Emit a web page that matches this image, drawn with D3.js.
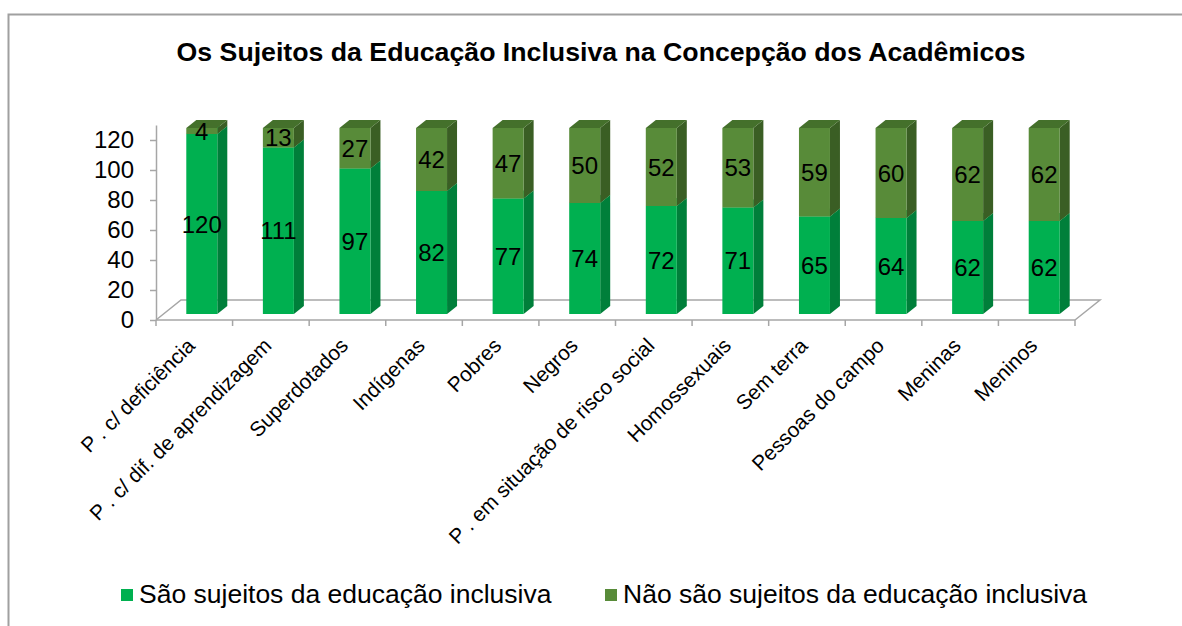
<!DOCTYPE html>
<html>
<head>
<meta charset="utf-8">
<script src="https://cdn.jsdelivr.net/npm/d3@7"></script>
<style>
  body { margin: 0; background: #fff; }
  svg { display: block; font-family: 'Liberation Sans', Arial, sans-serif; }
</style>
</head>
<body>
<svg id="chart" width="1182" height="626"></svg>
<script>
const categories = [
  'P . c/ deficiência', 'P . c/ dif. de aprendizagem', 'Superdotados', 'Indígenas',
  'Pobres', 'Negros', 'P . em situação de risco social', 'Homossexuais',
  'Sem terra', 'Pessoas do campo', 'Meninas', 'Meninos'
];
const saoSujeitos = [120, 111, 97, 82, 77, 74, 72, 71, 65, 64, 62, 62];
const naoSaoSujeitos = [4, 13, 27, 42, 47, 50, 52, 53, 59, 60, 62, 62];
const yTicks = [0, 20, 40, 60, 80, 100, 120];
const seriesNames = ['São sujeitos da educação inclusiva', 'Não são sujeitos da educação inclusiva'];

const colors = [
  { front: '#00B050', side: '#007F3A', top: '#2EC06A' },
  { front: '#588B39', side: '#3A5E24', top: '#44702B' }
];

const svg = d3.select('#chart');
const plot = { left: 156, right: 1075, bottom: 320, top: 125 };
// oblique depth of the floor, and the slice of it the bars stand in
const depth = { dx: 25, dy: -20 };
const barDepth = [0.3, 0.7];
const barWidth = 31;

const x = d3.scaleBand().domain(categories).range([plot.left, plot.right]);
const y = d3.scaleLinear().domain([0, 130]).range([plot.bottom, plot.top]);

// outer frame
svg.append('rect')
  .attr('x', 8.5).attr('y', 14.5)
  .attr('width', 1300).attr('height', 800)
  .attr('fill', 'none')
  .attr('stroke', '#A0A0A0')
  .attr('stroke-width', 2);

svg.append('text')
  .attr('x', 601).attr('y', 61)
  .attr('text-anchor', 'middle')
  .attr('font-size', 26.7)
  .attr('font-weight', 'bold')
  .text('Os Sujeitos da Educação Inclusiva na Concepção dos Acadêmicos');

// floor
const gridColor = '#A6A6A6';
const floor = svg.append('g').attr('stroke', gridColor).attr('stroke-width', 1.5).attr('fill', 'none');
floor.append('path')
  .attr('d', `M${plot.left},${plot.bottom} L${plot.left + depth.dx},${plot.bottom + depth.dy}
              L${plot.right + depth.dx},${plot.bottom + depth.dy} L${plot.right},${plot.bottom}`);

// y axis
const yAxis = svg.append('g')
  .attr('transform', `translate(${plot.left},0)`)
  .call(d3.axisLeft(y).tickValues(yTicks).tickSize(6).tickSizeOuter(0).tickPadding(16));
yAxis.select('.domain').attr('stroke', gridColor).attr('stroke-width', 1.5);
yAxis.selectAll('.tick line').attr('stroke', gridColor).attr('stroke-width', 1.5);
yAxis.selectAll('.tick text')
  .attr('font-size', 24)
  .attr('font-family', "'Liberation Sans', Arial, sans-serif")
  .attr('fill', '#000');

// x axis line and ticks at band boundaries
const xAxis = svg.append('g').attr('stroke', gridColor).attr('stroke-width', 1.5);
xAxis.append('line')
  .attr('x1', plot.left).attr('x2', plot.right)
  .attr('y1', plot.bottom).attr('y2', plot.bottom);
const bounds = categories.map(c => x(c)).concat([plot.right]);
xAxis.selectAll('.xt').data(bounds).enter().append('line')
  .attr('x1', d => d).attr('x2', d => d)
  .attr('y1', plot.bottom).attr('y2', plot.bottom + 6);

// category labels
svg.append('g').selectAll('text')
  .data(categories)
  .enter().append('text')
  .attr('transform', d => `translate(${x(d) + x.bandwidth() / 2 + 2},${plot.bottom + 27}) rotate(-45)`)
  .attr('text-anchor', 'end')
  .attr('font-size', 20.8)
  .text(d => d);

// stacked 3d columns
const stacks = categories.map((c, i) => {
  const vals = [saoSujeitos[i], naoSaoSujeitos[i]];
  let base = 0;
  return vals.map((v, s) => {
    const seg = { cat: c, series: s, value: v, y0: base, y1: base + v };
    base += v;
    return seg;
  });
});

const ox = depth.dx * barDepth[0];
const oy = depth.dy * barDepth[0];
const bx = depth.dx * (barDepth[1] - barDepth[0]);
const by = depth.dy * (barDepth[1] - barDepth[0]);

const bars = svg.append('g');
stacks.forEach(stack => {
  stack.forEach(seg => {
    const x0 = x(seg.cat) + (x.bandwidth() - barWidth) / 2 + ox;
    const x1 = x0 + barWidth;
    const yb = y(seg.y0) + oy;
    const yt = y(seg.y1) + oy;
    const col = colors[seg.series];
    const g = bars.append('g');
    g.append('polygon')
      .attr('points', [[x1, yb], [x1 + bx, yb + by], [x1 + bx, yt + by], [x1, yt]].join(' '))
      .attr('fill', col.side);
    g.append('polygon')
      .attr('points', [[x0, yt], [x1, yt], [x1 + bx, yt + by], [x0 + bx, yt + by]].join(' '))
      .attr('fill', col.top);
    g.append('rect')
      .attr('x', x0).attr('y', yt)
      .attr('width', barWidth).attr('height', yb - yt)
      .attr('fill', col.front);
  });
});

// data labels
stacks.forEach(stack => {
  stack.forEach(seg => {
    const cx = x(seg.cat) + x.bandwidth() / 2 + ox;
    const cy = (y(seg.y0) + y(seg.y1)) / 2 + oy;
    svg.append('text')
      .attr('x', cx).attr('y', cy)
      .attr('dy', '0.36em')
      .attr('text-anchor', 'middle')
      .attr('font-size', 24)
      .text(seg.value);
  });
});

// legend
const legendX = [121, 605];
const legend = svg.append('g');
seriesNames.forEach((name, i) => {
  legend.append('rect')
    .attr('x', legendX[i]).attr('y', 589)
    .attr('width', 12).attr('height', 12)
    .attr('fill', colors[i].front);
  legend.append('text')
    .attr('x', legendX[i] + 18).attr('y', 603)
    .attr('font-size', 26.5)
    .text(name);
});
</script>
</body>
</html>
